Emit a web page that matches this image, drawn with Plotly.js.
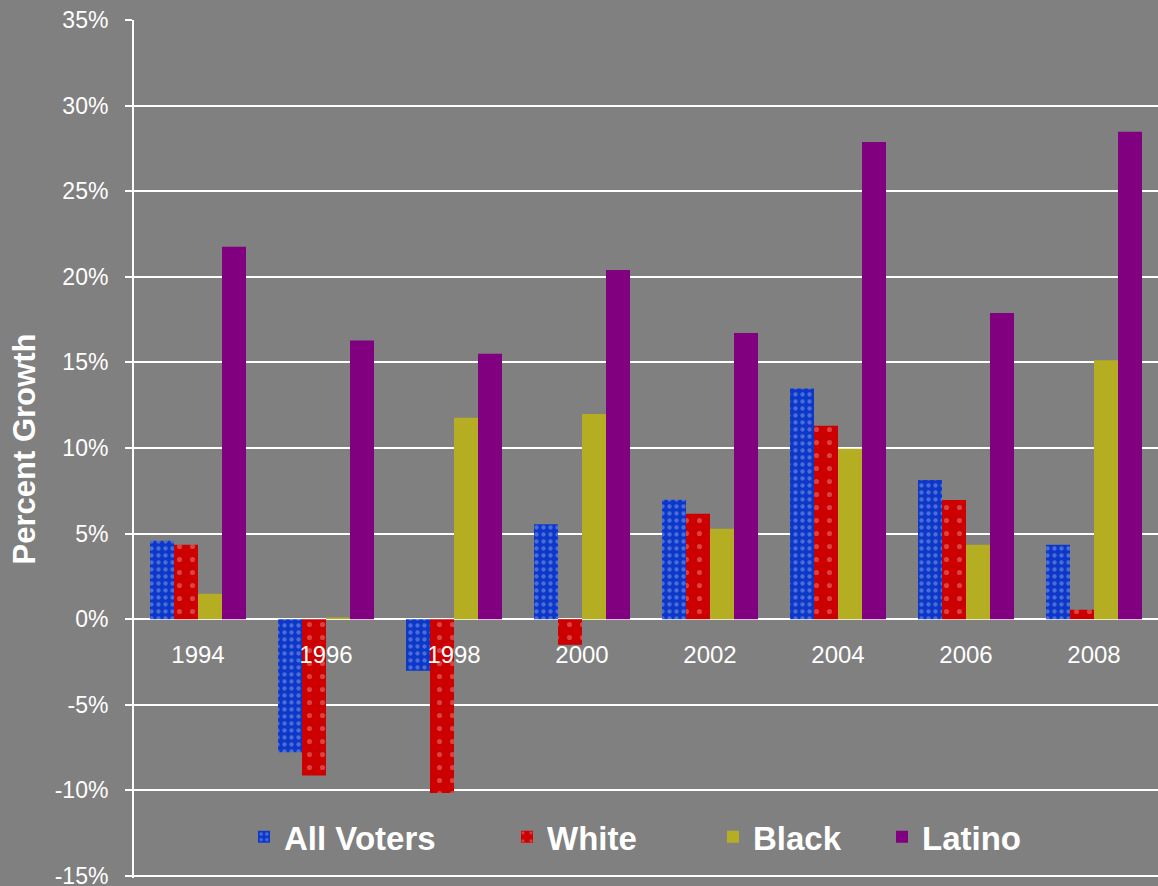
<!DOCTYPE html>
<html>
<head>
<meta charset="utf-8">
<script src="https://cdn.plot.ly/plotly-3.0.1.min.js"></script>
<style>
  html, body { margin: 0; padding: 0; background: #808080; }
  #chart { width: 1158px; height: 886px; }
</style>
</head>
<body>
<div id="chart"></div>
<script>
const years = ['1994', '1996', '1998', '2000', '2002', '2004', '2006', '2008'];
const allVoters = [4.58, -7.77, -3.02, 5.54, 6.98, 13.47, 8.13, 4.35];
const white = [4.35, -9.13, -10.16, -1.5, 6.16, 11.3, 6.96, 0.55];
const black = [1.48, 0.1, 11.77, 11.99, 5.28, 9.96, 4.35, 15.12];
const latino = [21.75, 16.28, 15.5, 20.4, 16.72, 27.88, 17.89, 28.47];
const yTicks = [-15, -10, -5, 0, 5, 10, 15, 20, 25, 30, 35];
const yTickText = ['-15%', '-10%', '-5%', '0%', '5%', '10%', '15%', '20%', '25%', '30%', '35%'];

const traces = [
  {
    type: 'bar', name: 'All Voters', x: years, y: allVoters, legend: 'legend',
    marker: { color: '#0b38c8', line: { width: 0 },
      pattern: { shape: '.', bgcolor: '#0b38c8', fgcolor: '#7a90e0', fgopacity: 0.6, size: 7, solidity: 0.3 } }
  },
  {
    type: 'bar', name: 'White', x: years, y: white, legend: 'legend2',
    marker: { color: '#cc0000', line: { width: 0 },
      pattern: { shape: '.', bgcolor: '#cc0000', fgcolor: '#e07070', fgopacity: 0.6, size: 13, solidity: 0.12 } }
  },
  {
    type: 'bar', name: 'Black', x: years, y: black, legend: 'legend3',
    marker: { color: '#b5ae22', line: { width: 0 } }
  },
  {
    type: 'bar', name: 'Latino', x: years, y: latino, legend: 'legend4',
    marker: { color: '#800080', line: { width: 0 } }
  }
];

const legendFont = { family: 'Liberation Sans, Arial, sans-serif', size: 33, color: '#ffffff', weight: 'bold' };
function mkLegend(px) {
  return {
    x: (px - 134) / 1024, xanchor: 'left', y: 0.048, yanchor: 'middle',
    orientation: 'h', bgcolor: 'rgba(0,0,0,0)', borderwidth: 0,
    font: legendFont
  };
}

const layout = {
  width: 1158, height: 886,
  paper_bgcolor: '#808080', plot_bgcolor: '#808080',
  margin: { l: 134, r: 0, t: 20, b: 8, pad: 0 },
  barmode: 'group', bargap: 0.25, bargroupgap: 0,
  font: { family: 'Liberation Sans, Arial, sans-serif', color: '#ffffff' },
  xaxis: {
    type: 'category', anchor: 'free', position: 15.12 / 50.12,
    showgrid: false, showline: false, zeroline: false, ticks: '',
    tickfont: { size: 24, color: '#ffffff' }, ticklabelstandoff: 19,
    fixedrange: true
  },
  yaxis: {
    range: [-15.12, 35], tickvals: yTicks, ticktext: yTickText,
    showgrid: true, gridcolor: '#ffffff', gridwidth: 2,
    zeroline: true, zerolinecolor: '#ffffff', zerolinewidth: 2,
    showline: true, linecolor: '#ffffff', linewidth: 2,
    ticks: 'outside', ticklen: 7, tickcolor: '#ffffff', tickwidth: 2,
    tickfont: { size: 23, color: '#ffffff' }, ticklabelstandoff: 12,
    ticklabeloverflow: 'allow',
    title: { text: 'Percent Growth', font: { size: 31, color: '#ffffff', weight: 'bold' }, standoff: 10 },
    fixedrange: true
  },
  showlegend: true,
  legend: mkLegend(244),
  legend2: mkLegend(507),
  legend3: mkLegend(713),
  legend4: mkLegend(882)
};

Plotly.newPlot('chart', traces, layout, { displayModeBar: false, staticPlot: true });
</script>
</body>
</html>
